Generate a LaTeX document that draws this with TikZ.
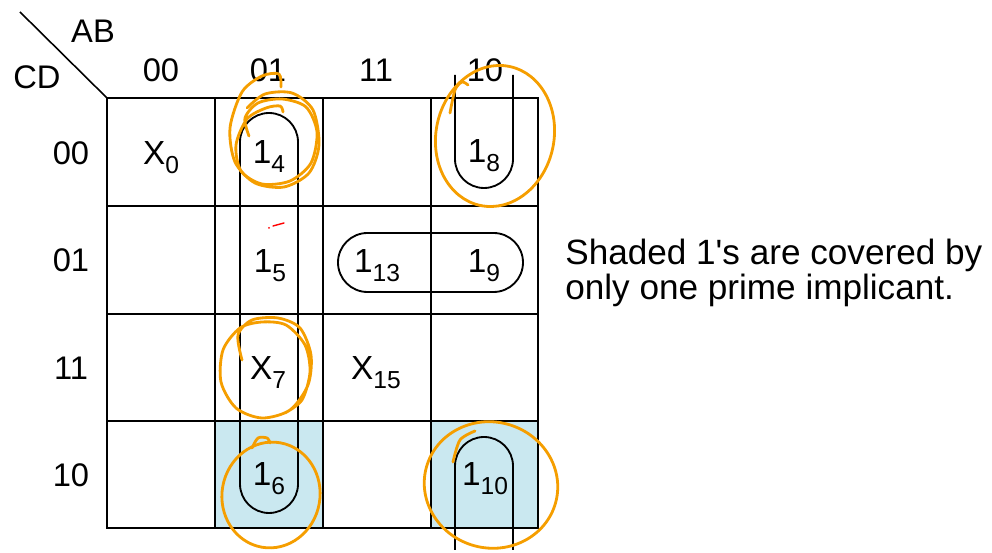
\documentclass[tikz,border=0pt]{standalone}
\usepackage{fontspec}
\setmainfont{Liberation Sans}
\usetikzlibrary{positioning}
\definecolor{shadeblue}{RGB}{202,232,240}
\definecolor{penorange}{RGB}{245,158,0}
\newcommand{\kv}[2]{#1\raisebox{-5pt}{\fontsize{14}{14}\selectfont #2}}

\begin{document}
\begin{tikzpicture}[x=0.02cm, y=-0.02cm,
        gridline/.style={line width=1.4pt, black},
        loopline/.style={line width=1.05pt, black, rounded corners=0.58cm},
        shaded/.style={fill=shadeblue},
        pen/.style={draw=penorange, line width=1.6pt, line cap=round, line join=round},
        lbl/.style={font=\fontsize{18.6}{18.6}\selectfont, anchor=base, inner sep=0pt},
        celltxt/.style={font=\fontsize{19}{19}\selectfont, anchor=base, inner sep=0pt},
        note/.style={font=\fontsize{20}{20}\selectfont, anchor=base west, inner sep=0pt, align=left}
    ]
    \useasboundingbox (0,0) rectangle (992,553);

    % shaded cells
    \fill[shaded] (215,421) rectangle (323,528);
    \fill[shaded] (431,421) rectangle (538,528);

    % grid
    \foreach \x in {215,323,431} \draw[gridline] (\x,98) -- (\x,528);
    \foreach \y in {206,314,421} \draw[gridline] (107,\y) -- (538,\y);
    \draw[gridline] (107,98) rectangle (538,528);
    \draw[line width=0.9pt] (20,12) -- (107,98);

    % headings
    \node[lbl] (ab) at (93,43) {AB};
    \node[lbl] (cd) at (37,89) {CD};
    \node[lbl] (col00) at (161,82) {00};
    \node[lbl] (col01) at (268,82) {01};
    \node[lbl] (col11) at (376,82) {11};
    \node[lbl] (col10) at (485,82) {10};
    \node[lbl] (row00) at (71,165) {00};
    \node[lbl] (row01) at (71,272) {01};
    \node[lbl] (row11) at (71,380) {11};
    \node[lbl] (row10) at (71,487) {10};

    % cells
    \node[celltxt] (m0) at (161,165) {\kv{X}{0}};
    \node[celltxt] (m4) at (269,164) {\kv{1}{4}};
    \node[celltxt] (m8) at (484,163) {\kv{1}{8}};
    \node[celltxt] (m5) at (270,273) {\kv{1}{5}};
    \node[celltxt] (m13) at (377,273) {\kv{1}{13}};
    \node[celltxt] (m9) at (484,273) {\kv{1}{9}};
    \node[celltxt] (m7) at (268,380) {\kv{X}{7}};
    \node[celltxt] (m15) at (376,380) {\kv{X}{15}};
    \node[celltxt] (m6) at (269,486) {\kv{1}{6}};
    \node[celltxt] (m10) at (485,486) {\kv{1}{10}};

    % prime implicant loops
    \draw[loopline] (240,113) rectangle (298,513);
    \draw[loopline] (455,75) -- (455,188) -- (513,188) -- (513,75);
    \draw[loopline] (455,550) -- (455,437) -- (513,437) -- (513,550);
    \draw[loopline, rounded corners=0.59cm] (338,233) rectangle (523,292);

    \node[note] (note) at (565,300) {Shaded 1\textquotesingle s are covered by\\only one prime implicant.};

    % pen marks
    \draw[pen] plot[smooth] coordinates {(281,87) (279,74) (262,76) (242,92) (230,128) (235,162) (255,183) (284,187) (309,173) (319,145) (313,110) (292,93) (265,94) (247,108)};
    \draw[pen] plot[smooth] coordinates {(249,136) (245,118) (258,103) (282,99) (306,107) (317,132) (311,163) (290,181) (262,184) (241,171) (236,145) (247,119) (266,108) (280,106) (283,112)};
    \draw[pen] plot[smooth] coordinates {(450,113) (455,90) (462,82) (468,85)};
    \draw[pen, rotate around={-12:(495,136)}] (495,136) ellipse [x radius=59, y radius=71];
    \draw[pen] plot[smooth] coordinates {(242,360) (238,335) (252,320) (278,318) (300,328) (311,355) (308,385) (290,410) (262,418) (236,408) (221,382) (223,350) (240,328) (262,322) (286,325) (305,345) (310,372) (302,400) (285,413)};
    \draw[pen] plot[smooth] coordinates {(252,448) (258,438) (267,438) (270,443)};
    \draw[pen, rotate around={-10:(271,495)}] (271,495) ellipse [x radius=49, y radius=53];
    \draw[pen] plot[smooth] coordinates {(453,462) (460,440) (475,431)};
    \draw[pen, rotate around={-15:(491,485)}] (491,485) ellipse [x radius=67, y radius=63];
    \draw[red, line width=0.8pt, line cap=round] (273,226) -- (284,223);
    \fill[red] (269,228) circle [radius=1];
\end{tikzpicture}
\end{document}
